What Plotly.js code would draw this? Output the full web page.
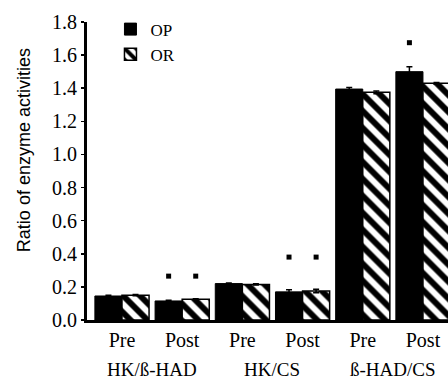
<!DOCTYPE html>
<html>
<head>
<meta charset="utf-8">
<script src="https://cdn.plot.ly/plotly-3.0.1.min.js"></script>
<style>html,body{margin:0;padding:0;background:#fff;}#chart{width:448px;height:381px;}</style>
</head>
<body>
<div id="chart"></div>
<script>
// ---- data ----
const phases = ["Pre", "Post", "Pre", "Post", "Pre", "Post"];
const ratioGroups = ["HK/ß-HAD", "HK/CS", "ß-HAD/CS"];
const opValues = [0.145, 0.115, 0.220, 0.170, 1.395, 1.500];
const orValues = [0.150, 0.125, 0.215, 0.175, 1.375, 1.430];
const opErrors = [0.004, 0.004, 0.004, 0.012, 0.010, 0.030];
const orErrors = [0.004, 0.004, 0.004, 0.010, 0.008, 0.005];
// significance markers: [category index, series ('OP' or 'OR'), height]
const sigCategory = [1, 1, 3, 3, 5];
const sigSeries = ["OP", "OR", "OP", "OR", "OP"];
const sigHeight = [0.265, 0.265, 0.38, 0.38, 1.675];
const yTitle = "Ratio of enzyme activities";

// ---- layout constants ----
const idx = phases.map((_, i) => i);
const barOffset = 0.225;
const serif = "Liberation Serif";

const traces = [
  {
    type: "bar", name: "OP", x: idx, y: opValues,
    marker: {color: "#000", line: {color: "#000", width: 1}},
    error_y: {type: "data", array: opErrors, visible: true, color: "#000", thickness: 1.5, width: 3}
  },
  {
    type: "bar", name: "OR", x: idx, y: orValues,
    marker: {color: "#fff", line: {color: "#000", width: 1.5},
      pattern: {shape: "\\", fgcolor: "#000", bgcolor: "#fff", size: 12, solidity: 0.5}},
    error_y: {type: "data", array: orErrors, visible: true, color: "#000", thickness: 1.5, width: 3}
  },
  {
    type: "scatter", mode: "markers", showlegend: false, hoverinfo: "skip",
    x: sigCategory.map((c, i) => c + (sigSeries[i] === "OP" ? -barOffset : barOffset)),
    y: sigHeight,
    marker: {symbol: "square", size: 5, color: "#000"}
  }
];

const annotations = ratioGroups.map((g, i) => ({
  text: g, x: 2 * i + 0.5, xref: "x", y: -0.165, yref: "paper",
  showarrow: false, xanchor: "center", yanchor: "middle",
  font: {family: serif, size: 19, color: "#000"}
}));
annotations.push({
  text: yTitle, textangle: -90, x: 24, xref: "paper", xanchor: "center",
  y: 0.57, yref: "paper", yanchor: "middle", showarrow: false,
  font: {family: "Liberation Sans", size: 18, color: "#000"}
});

const layout = {
  width: 448, height: 381,
  margin: {l: 87, r: 0, t: 22, b: 61},
  paper_bgcolor: "#fff", plot_bgcolor: "#fff",
  barmode: "group", bargap: 0.1, bargroupgap: 0,
  showlegend: true,
  legend: {x: 0.065, y: 1.035, xanchor: "left", yanchor: "top",
    font: {family: serif, size: 17, color: "#000"}, bgcolor: "rgba(0,0,0,0)",
    tracegroupgap: 0, itemwidth: 30},
  xaxis: {
    range: [-0.581, 5.416], tickmode: "array", tickvals: idx, ticktext: phases,
    showline: true, linecolor: "#000", linewidth: 3, ticks: "", showgrid: false, zeroline: false,
    tickfont: {family: serif, size: 20, color: "#000"}
  },
  yaxis: {
    range: [0, 1.8], dtick: 0.2, tickformat: ".1f",
    showline: true, linecolor: "#000", linewidth: 3, ticks: "outside", ticklen: 3, tickwidth: 1.5,
    tickcolor: "#000", showgrid: false, zeroline: false,
    tickfont: {family: serif, size: 20, color: "#000"}
  },
  annotations: annotations
};
// paper x for the title annotation: convert 24px from the left edge
annotations[annotations.length - 1].x = (24 - layout.margin.l) / (layout.width - layout.margin.l - layout.margin.r);

Plotly.newPlot("chart", traces, layout, {staticPlot: true, displayModeBar: false});
</script>
</body>
</html>
